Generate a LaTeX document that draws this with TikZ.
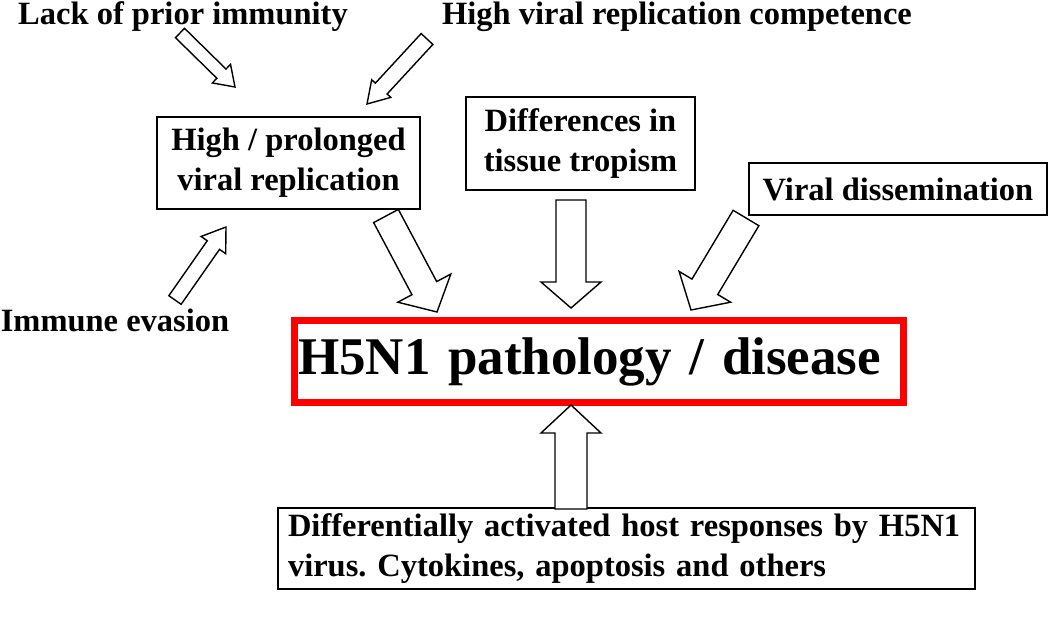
\documentclass[tikz,border=0pt]{standalone}
\usepackage{fontspec}
\setmainfont{Liberation Serif}
\usetikzlibrary{calc, positioning}
\frenchspacing

\newcommand{\lbl}{\fontsize{32.5}{40}\selectfont\bfseries}

\tikzset{
  box/.style={draw, line width=1.4pt, inner sep=0pt, align=center, font=\lbl},
  plain/.style={inner sep=0pt, font=\lbl, anchor=base},
  blockarr/.style={draw, line width=1.4pt, fill=white, line join=miter},
}

% hollow block arrow: from, to, half shaft, half head, head length
\newcommand{\blockarrow}[5]{%
  \draw[blockarr] let \p1=(#1), \p2=(#2),
    \n1={atan2(\y2-\y1,\x2-\x1)}, \n2={veclen(\x2-\x1,\y2-\y1)} in
    ($(\p1)+(\n1+90:#3)$) -- ($(\p1)+(\n1:\n2-#5)+(\n1+90:#3)$)
    -- ($(\p1)+(\n1:\n2-#5)+(\n1+90:#4)$) -- (\p2)
    -- ($(\p1)+(\n1:\n2-#5)+(\n1-90:#4)$)
    -- ($(\p1)+(\n1:\n2-#5)+(\n1-90:#3)$)
    -- ($(\p1)+(\n1-90:#3)$) -- cycle;}

\begin{document}
\begin{tikzpicture}[x=1pt, y=1pt]
  \useasboundingbox (0,0) rectangle (1050,-618);

  % causes
  \node[plain] (lack) at (183,-25) {Lack of prior immunity};
  \node[plain] (compet) at (677,-25) {High viral replication competence};
  \node[plain] (evasion) at (115,-331) {Immune evasion};

  \node[box, minimum width=263pt, minimum height=92pt] (repl) at (288.5,-163) {High / prolonged\\viral replication};
  \node[box, minimum width=229pt, minimum height=93pt] (tropism) at (580.5,-143.5) {Differences in\\tissue tropism};
  \node[box, minimum width=298pt, minimum height=52pt] (dissem) at (898,-189) {Viral dissemination};

  % outcome
  \node[draw=red, line width=7pt, minimum width=609pt, minimum height=82pt, inner ysep=0pt, inner xsep=4pt,
        text width=601pt, align=left, font=\fontsize{53}{60}\selectfont\bfseries] (disease) at (598.5,-361.5) {H5N1 pathology / disease};

  \node[box, align=left, minimum width=697pt, minimum height=81pt, inner xsep=10pt, text width=677pt] (host) at (626.5,-548.5)
    {Differentially activated host responses by H5N1\\virus. Cytokines, apoptosis and others};

  % arrow ends
  \coordinate (lackA) at (180,-33);   \coordinate (lackB) at (235,-87);
  \coordinate (competA) at (427,-39); \coordinate (competB) at (367,-104);
  \coordinate (evasA) at (175,-300);  \coordinate (evasB) at (226,-227);
  \coordinate (replA) at (386,-216);  \coordinate (replB) at (437,-312);
  \coordinate (tropA) at (571,-200);  \coordinate (tropB) at (571,-308);
  \coordinate (dissA) at (746,-218);  \coordinate (dissB) at (691,-310);
  \coordinate (hostA) at (571,-509);  \coordinate (hostB) at (571,-405);

  \blockarrow{lackA}{lackB}{6.5}{13}{19}
  \blockarrow{competA}{competB}{8}{13}{21}
  \blockarrow{evasA}{evasB}{7.5}{15}{22}
  \blockarrow{replA}{replB}{14}{30}{27}
  \blockarrow{tropA}{tropB}{15}{30}{26}
  \blockarrow{dissA}{dissB}{15}{30}{27}
  \blockarrow{hostA}{hostB}{16}{30}{28}
\end{tikzpicture}
\end{document}
